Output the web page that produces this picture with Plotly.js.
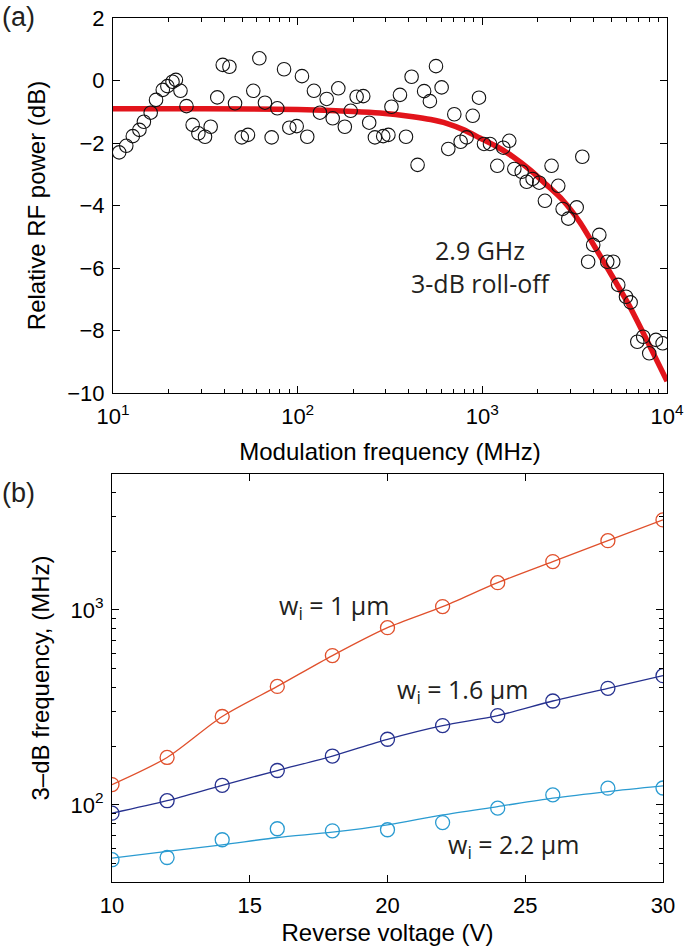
<!DOCTYPE html>
<html>
<head>
<meta charset="utf-8">
<script src="https://cdn.plot.ly/plotly-3.0.1.min.js"></script>
<style>html,body{margin:0;padding:0;background:#fff;}#chart{width:685px;height:948px;}</style>
</head>
<body>
<div id="chart"></div>
<script>
// ---- Panel (a): measured response ----
const freqMHz = [10.8, 11.8, 12.8, 13.9, 14.7, 16.0, 17.1, 18.6, 19.7, 21.0, 21.9, 23.2, 25.0, 27.0, 29.0, 31.5, 33.8, 36.7, 39.3, 42.7,
  45.8, 49.8, 53.8, 57.5, 62.0, 66.5, 72.3, 77.6, 84.4, 90.1, 98.8, 105.5, 112.7, 122.5, 132, 143.6, 154.8, 166, 180, 193.6,
  208.6, 226.5, 244, 262, 290.6, 310, 322, 358, 386, 414, 446, 484, 520, 561, 602, 654, 705, 763, 822, 887,
  959, 1021, 1100, 1205, 1298, 1399, 1490, 1633, 1738, 1872, 2032, 2182, 2371, 2577, 2722, 2920, 3243, 3478, 3741, 3985,
  4300, 4746, 5115, 5445, 5996, 6354, 6904, 7433, 8014, 8713, 9466];
const powerDB = [-2.30, -2.09, -1.78, -1.58, -1.32, -1.03, -0.62, -0.30, -0.18, -0.04, 0.02, -0.33, -0.82, -1.42, -1.69, -1.80, -1.48, -0.54, 0.50, 0.44,
  -0.73, -1.82, -1.74, -0.33, 0.71, -0.71, -1.82, -0.89, 0.36, -1.51, -1.46, 0.14, -1.80, -0.33, -1.03, -0.59, -1.21, -0.25, -1.48, -0.97,
  -0.52, -0.50, -1.35, -1.82, -1.78, -1.74, -0.84, -0.46, -1.80, 0.12, -2.70, -0.34, -0.66, 0.46, -0.22, -2.19, -1.08, -1.96, -1.82, -1.13,
  -0.55, -2.03, -2.03, -2.73, -2.15, -1.93, -2.83, -2.92, -3.24, -3.15, -3.27, -3.85, -2.73, -3.37, -4.11, -4.42, -4.06, -2.44, -5.80, -5.26,
  -4.94, -5.80, -5.80, -6.54, -6.92, -7.10, -8.36, -8.20, -8.73, -8.30, -8.41];

// Fitted roll-off curve
const fitFreqMHz = [10, 31.6, 100, 200, 279, 421, 525, 640, 794, 970, 1202, 1466, 1820, 2228, 2698, 3388, 4159, 5117, 6295, 7762, 10000];
const fitDB = [-0.90, -0.90, -0.93, -0.99, -1.04, -1.16, -1.25, -1.37, -1.58, -1.84, -2.12, -2.44, -2.87, -3.34, -3.80, -4.55, -5.42, -6.32, -7.24, -8.30, -9.62];

// ---- Panel (b): 3-dB frequency vs reverse voltage ----
const voltage = [10, 12, 14, 16, 18, 20, 22, 24, 26, 28, 30];
const f3dB_w1 = [127, 175, 284, 405, 583, 811, 1040, 1380, 1770, 2265, 2895];
const f3dB_w16 = [90.6, 105, 126, 150, 178, 217, 255, 287, 341, 396, 460];
const f3dB_w22 = [52.3, 53.7, 66.2, 75.4, 73.6, 74.5, 81.1, 96.2, 112.5, 121.8, 122];
const fit_w22 = [53.3, 57.7, 62.4, 68.0, 72.4, 78.9, 88.8, 98.0, 108.2, 117.0, 125.1];

const labels = {
  a: '(a)', b: '(b)',
  rolloff: '2.9 GHz<br>3-dB roll-off',
  w1: 'w<sub>i</sub> = 1 μm', w16: 'w<sub>i</sub> = 1.6 μm', w22: 'w<sub>i</sub> = 2.2 μm'
};

const cRed = '#e2141b', cOrange = '#e0502c', cNavy = '#26318f', cCyan = '#2a9bd1';

const traces = [
  {x: fitFreqMHz, y: fitDB, xaxis: 'x', yaxis: 'y', mode: 'lines', line: {color: cRed, width: 5.5, shape: 'spline', smoothing: 0.6}, hoverinfo: 'skip'},
  {x: freqMHz, y: powerDB, xaxis: 'x', yaxis: 'y', mode: 'markers', marker: {symbol: 'circle-open', size: 13.5, color: '#111', line: {width: 1.1}}},
  {x: voltage, y: f3dB_w1, xaxis: 'x2', yaxis: 'y2', mode: 'lines+markers', line: {color: cOrange, width: 1.3, shape: 'spline', smoothing: 0.8}, marker: {symbol: 'circle-open', size: 14, color: cOrange, line: {width: 1.3}}},
  {x: voltage, y: f3dB_w16, xaxis: 'x2', yaxis: 'y2', mode: 'lines+markers', line: {color: cNavy, width: 1.3, shape: 'spline', smoothing: 0.8}, marker: {symbol: 'circle-open', size: 14, color: cNavy, line: {width: 1.3}}},
  {x: voltage, y: fit_w22, xaxis: 'x2', yaxis: 'y2', mode: 'lines', line: {color: cCyan, width: 1.3, shape: 'spline', smoothing: 0.8}},
  {x: voltage, y: f3dB_w22, xaxis: 'x2', yaxis: 'y2', mode: 'markers', marker: {symbol: 'circle-open', size: 14, color: cCyan, line: {width: 1.3}}}
];

const W = 685, H = 948;
const axCommon = {
  showline: true, linecolor: '#000', linewidth: 1, mirror: 'allticks',
  ticks: 'inside', tickcolor: '#000', tickwidth: 1, showgrid: false, zeroline: false,
  automargin: false, tickfont: {size: 22, color: '#000', family: '"Liberation Sans", Arial, sans-serif'}
};
const decMinor = (lo, hi) => { const v = []; for (let e = lo; e <= hi; e++) for (let m = 2; m <= 9; m++) v.push(m * Math.pow(10, e)); return v; };
const annFont = {size: 25, family: '"Open Sans", "Noto Sans", sans-serif', color: '#231f20'};
const panelFont = {size: 27, family: 'Arial, "Liberation Sans", sans-serif', color: '#231f20'};

const layout = {
  width: W, height: H,
  margin: {l: 0, r: 0, t: 0, b: 0},
  paper_bgcolor: '#fff', plot_bgcolor: '#fff',
  showlegend: false,
  font: {family: '"Liberation Sans", Arial, sans-serif', color: '#000', size: 22},
  xaxis: Object.assign({}, axCommon, {
    type: 'log', domain: [113 / W, 667 / W], range: [1, 4], anchor: 'y',
    tickmode: 'array', tickvals: [10, 100, 1000, 10000],
    ticktext: ['10<sup>1</sup>', '10<sup>2</sup>', '10<sup>3</sup>', '10<sup>4</sup>'],
    ticklen: 7, ticklabelstandoff: 4,
    minor: {ticks: 'inside', ticklen: 4, tickcolor: '#000', tickmode: 'array', tickvals: decMinor(1, 3), showgrid: false},
    title: {text: 'Modulation frequency (MHz)', font: {size: 24}, standoff: 14}
  }),
  yaxis: Object.assign({}, axCommon, {
    domain: [1 - 393 / H, 1 - 18 / H], range: [-10, 2], anchor: 'x',
    tickmode: 'linear', tick0: -10, dtick: 2, ticklen: 7, ticklabelstandoff: 3,
    title: {text: 'Relative RF power (dB)', font: {size: 24}, standoff: 14}
  }),
  xaxis2: Object.assign({}, axCommon, {
    domain: [112 / W, 663 / W], range: [10, 30], anchor: 'y2',
    tickmode: 'linear', tick0: 10, dtick: 5, ticklen: 7, ticklabelstandoff: 4,
    title: {text: 'Reverse voltage (V)', font: {size: 24}, standoff: 6}
  }),
  yaxis2: Object.assign({}, axCommon, {
    type: 'log', domain: [1 - 882 / H, 1 - 474 / H], range: [Math.log10(40.2), Math.log10(4980)], anchor: 'x2',
    tickmode: 'array', tickvals: [100, 1000], ticktext: ['10<sup>2</sup>', '10<sup>3</sup>'],
    ticklen: 7, ticklabelstandoff: 3,
    minor: {ticks: 'inside', ticklen: 4, tickcolor: '#000', tickmode: 'array', tickvals: decMinor(1, 3), showgrid: false},
    title: {text: '3–dB frequency, (MHz)', font: {size: 24}, standoff: 14}
  }),
  annotations: [
    {text: labels.a, xref: 'paper', yref: 'paper', x: 0, y: 1, xanchor: 'left', yanchor: 'top', showarrow: false, font: panelFont},
    {text: labels.b, xref: 'paper', yref: 'paper', x: 0, y: 1 - 476 / H, xanchor: 'left', yanchor: 'top', showarrow: false, font: panelFont},
    {text: labels.rolloff, xref: 'paper', yref: 'paper', x: 480 / W, y: 1 - 266 / H, xanchor: 'center', yanchor: 'middle', showarrow: false, font: annFont},
    {text: labels.w1, xref: 'paper', yref: 'paper', x: 334 / W, y: 1 - 606 / H, xanchor: 'center', yanchor: 'middle', showarrow: false, font: annFont},
    {text: labels.w16, xref: 'paper', yref: 'paper', x: 462 / W, y: 1 - 690 / H, xanchor: 'center', yanchor: 'middle', showarrow: false, font: annFont},
    {text: labels.w22, xref: 'paper', yref: 'paper', x: 513 / W, y: 1 - 845 / H, xanchor: 'center', yanchor: 'middle', showarrow: false, font: annFont}
  ]
};

Plotly.newPlot('chart', traces, layout, {staticPlot: true, displayModeBar: false});
</script>
</body>
</html>
